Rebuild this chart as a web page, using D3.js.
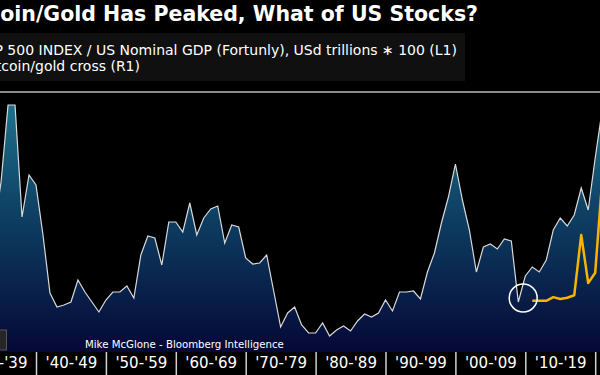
<!DOCTYPE html>
<html>
<head>
<meta charset="utf-8">
<script src="https://cdn.jsdelivr.net/npm/d3@7"></script>
<style>
  html, body { margin: 0; padding: 0; background: #000; }
  svg { display: block; }
</style>
</head>
<body>
<svg id="chart" width="600" height="375"></svg>
<script>
// ---- data ----
const title = "Bitcoin/Gold Has Peaked, What of US Stocks?";
const legendLabels = [
  "S&P 500 INDEX / US Nominal GDP (Fortunly), USd trillions \u2217 100 (L1)",
  "Bitcoin/gold cross (R1)"
];
const credit = "Mike McGlone - Bloomberg Intelligence";
const decadeLabels = ["'30-'39","'40-'49","'50-'59","'60-'69","'70-'79","'80-'89","'90-'99","'00-'09","'10-'19","'20-'29"];
const decadeStarts = [1930,1940,1950,1960,1970,1980,1990,2000,2010,2020];

const years = [];
for (let y = 1934; y <= 2021; y++) years.push(y);
const spxGdp = [
  61, 85, 123.5, 123.5, 67.5, 88.5,            // 1934-1939
  83.5, 58.5, 29.5, 22.5, 23.5, 25, 36, 30, 25, 20, // 1940s
  26, 30, 30, 33, 27, 48.5, 58, 57, 43.5, 65,   // 1950s
  65, 60, 74.5, 58.5, 67, 71.5, 73, 54.5, 63.5, 62.5, // 1960s
  47, 44, 44.5, 48.5, 30.5, 12.5, 19.5, 22.5, 13.5, 9.5, // 1970s
  9.5, 14.5, 8, 11, 13, 10.5, 15.5, 19, 17.5, 19.5, // 1980s
  26, 20.5, 30, 30, 30.5, 26.5, 40, 49.5, 64.5, 77.5, // 1990s
  94, 76, 61, 40, 52.5, 54, 51.5, 56.5, 55.5, 25, // 2000s
  38, 42.5, 40, 46, 61, 67, 63, 68.5, 82, 71,    // 2010s
  97, 121                                        // 2020-2021
];
const btcYears = [2011, 2012, 2013, 2014, 2015, 2016, 2017, 2018, 2019, 2020, 2021];
const btcGold  = [0.2, 0.2, 0.2, 0.8, 0.5, 0.7, 1.1, 11.0, 3.1, 4.8, 20];

// ---- layout ----
const W = 600, H = 375;
const plotTop = 93, plotBottom = 352;
const svg = d3.select("#chart");

const x = d3.scaleLinear().domain([1940, 2020]).range([36, 595.2]);
const y = d3.scaleLinear().domain([0, 129.5]).range([plotBottom, plotTop]);
const y2 = d3.scaleLinear().domain([0, 40]).range([302, 58]);

svg.append("rect").attr("width", W).attr("height", H).attr("fill", "#000");

const defs = svg.append("defs");
const grad = defs.append("linearGradient")
  .attr("id", "areaGrad").attr("gradientUnits", "userSpaceOnUse")
  .attr("x1", 0).attr("x2", 0).attr("y1", plotTop).attr("y2", plotBottom);
grad.append("stop").attr("offset", "0%").attr("stop-color", "#1f7590");
grad.append("stop").attr("offset", "50%").attr("stop-color", "#0d3c60");
grad.append("stop").attr("offset", "100%").attr("stop-color", "#050836");
defs.append("clipPath").attr("id", "plotClip")
  .append("rect").attr("x", 0).attr("y", plotTop).attr("width", W).attr("height", plotBottom - plotTop);

// title
svg.append("text")
  .attr("x", 478).attr("y", 21).attr("text-anchor", "end")
  .attr("font-family", "DejaVu Sans").attr("font-weight", "bold")
  .attr("font-size", 20.5).attr("fill", "#fff").text(title);

// legend box
svg.append("rect").attr("x", -10).attr("y", 33).attr("width", 475).attr("height", 48).attr("fill", "#101010");
svg.append("text").attr("x", 457).attr("y", 55).attr("text-anchor", "end")
  .attr("font-family", "DejaVu Sans").attr("font-size", 14).attr("fill", "#fff").text(legendLabels[0]);
svg.append("text").attr("x", 140).attr("y", 71).attr("text-anchor", "end")
  .attr("font-family", "DejaVu Sans").attr("font-size", 14).attr("fill", "#fff").text(legendLabels[1]);

// top rule
svg.append("line").attr("x1", 0).attr("x2", W).attr("y1", 92).attr("y2", 92)
  .attr("stroke", "#8a8a8a").attr("stroke-width", 2);

const plot = svg.append("g").attr("clip-path", "url(#plotClip)");
const pts = years.map((yr, i) => ({ yr, v: spxGdp[i] }));

plot.append("path").datum(pts)
  .attr("fill", "url(#areaGrad)")
  .attr("d", d3.area().x(d => x(d.yr)).y0(plotBottom).y1(d => y(d.v)));
plot.append("path").datum(pts)
  .attr("fill", "none").attr("stroke", "#d9d9d9").attr("stroke-width", 1.2)
  .attr("d", d3.line().x(d => x(d.yr)).y(d => y(d.v)));

const bpts = btcYears.map((yr, i) => ({ yr, v: btcGold[i] }));
plot.append("path").datum(bpts)
  .attr("fill", "none").attr("stroke", "#f7b500").attr("stroke-width", 2.5)
  .attr("stroke-linejoin", "round")
  .attr("d", d3.line().x(d => x(d.yr)).y(d => y2(d.v)));

// annotation circle at the 2009 cross
plot.append("circle").attr("cx", x(2009.7)).attr("cy", y(27)).attr("r", 14)
  .attr("fill", "none").attr("stroke", "#fff").attr("stroke-width", 1.5);

// credit
svg.append("text").attr("x", 85).attr("y", 348)
  .attr("font-family", "DejaVu Sans").attr("font-size", 10.2).attr("fill", "#fff").text(credit);

// small cropped box bottom-left
svg.append("rect").attr("x", -6).attr("y", 330).attr("width", 12.5).attr("height", 20)
  .attr("fill", "#262626").attr("stroke", "#555").attr("stroke-width", 1);

// x axis: separators and decade labels
const sepAxis = d3.axisBottom(x).tickValues(decadeStarts).tickSize(23).tickFormat("");
const gSep = svg.append("g").attr("transform", `translate(0,${plotBottom})`).call(sepAxis);
gSep.select(".domain").remove();
gSep.selectAll(".tick line").attr("stroke", "#d0d0d0").attr("stroke-width", 1.5);

const labAxis = d3.axisBottom(x).tickValues(decadeStarts.map(d => d + 5)).tickSize(0)
  .tickFormat((d, i) => decadeLabels[i]);
const gLab = svg.append("g").attr("transform", `translate(0,${plotBottom})`).call(labAxis);
gLab.select(".domain").remove();
gLab.selectAll(".tick text").attr("fill", "#fff").attr("font-family", "DejaVu Sans")
  .attr("font-size", 15).attr("dy", 0).attr("y", 16);
</script>
</body>
</html>
